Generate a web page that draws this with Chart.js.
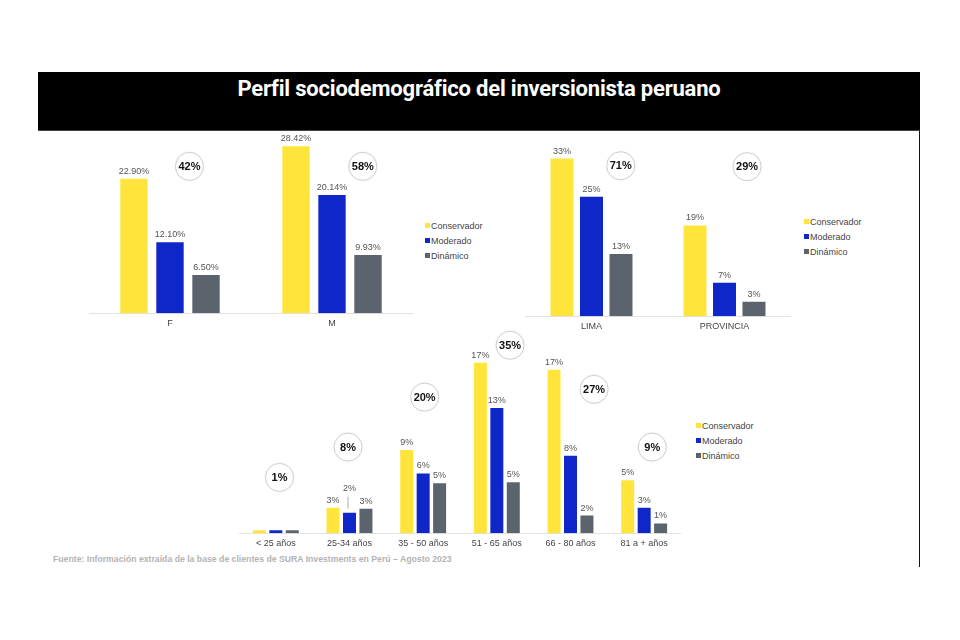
<!DOCTYPE html>
<html>
<head>
<meta charset="utf-8">
<script src="https://cdn.jsdelivr.net/npm/chart.js@4"></script>
<style>
  body { margin: 0; background: #fff; width: 960px; height: 640px; position: relative; overflow: hidden; font-family: "Liberation Sans", Arial, sans-serif; }
  #banner { position: absolute; left: 38px; top: 72px; width: 882px; height: 58px; background: #000; border-bottom: 1px solid #444; }
  #title { position: absolute; left: 38px; top: 76px; width: 882px; text-align: center; color: #fff; font: bold 22px Roboto, "Liberation Sans", sans-serif; line-height: 26px; letter-spacing: -0.2px; }
  #rightline { position: absolute; left: 919px; top: 131px; width: 1px; height: 436px; background: #111; }
  .box { position: absolute; }
  .legend { position: absolute; font-size: 9px; color: #444; line-height: 15px; }
  .legend span { display: inline-block; width: 5px; height: 5px; margin-right: 1px; vertical-align: 1px; }
  #footer { position: absolute; left: 53px; top: 554px; font-size: 8.7px; font-weight: bold; color: #b3b3b3; }
</style>
</head>
<body>
<div id="banner"></div>
<div id="title">Perfil sociodemográfico del inversionista peruano</div>
<div id="rightline"></div>

<div class="box" style="left:89px; top:117px; width:324px; height:217px;"><canvas id="sexo"></canvas></div>
<div class="box" style="left:525px; top:129px; width:266px; height:208px;"><canvas id="region"></canvas></div>
<div class="box" style="left:239px; top:327px; width:442px; height:227px;"><canvas id="edad"></canvas></div>

<div class="legend" id="leg1" style="left:425px; top:219px;"></div>
<div class="legend" id="leg2" style="left:804px; top:215px;"></div>
<div class="legend" id="leg3" style="left:696px; top:419px;"></div>

<div id="footer">Fuente: Información extraída de la base de clientes de SURA Investments en Perú – Agosto 2023</div>

<script>
const seriesNames = ["Conservador", "Moderado", "Dinámico"];
const seriesColors = ["#FFE53B", "#0F27C8", "#5B636D"];

// sexo
const sexCategories = ["F", "M"];
const sexConservador = [22.9, 28.42];
const sexModerado = [12.1, 20.14];
const sexDinamico = [6.5, 9.93];
const sexTotals = ["42%", "58%"];

// region
const regionCategories = ["LIMA", "PROVINCIA"];
const regionConservador = [33, 19];
const regionModerado = [25, 7];
const regionDinamico = [13, 3];
const regionTotals = ["71%", "29%"];

// edad
const ageCategories = ["< 25 años", "25-34 años", "35 - 50 años", "51 - 65 años", "66 - 80 años", "81 a + años"];
const ageConservador = [0.3, 2.6, 8.5, 17.4, 16.7, 5.4];
const ageModerado = [0.3, 2.1, 6.1, 12.8, 7.9, 2.6];
const ageDinamico = [0.3, 2.5, 5.1, 5.2, 1.8, 1.0];
const ageTotals = ["1%", "8%", "20%", "35%", "27%", "9%"];

const barLabels = {
  id: "barLabels",
  afterDatasetsDraw(chart, args, opts) {
    const ctx = chart.ctx;
    ctx.save();
    ctx.font = '9px "Liberation Sans", Arial, sans-serif';
    ctx.fillStyle = "#555";
    ctx.textAlign = "center";
    ctx.textBaseline = "bottom";
    chart.data.datasets.forEach((ds, di) => {
      chart.getDatasetMeta(di).data.forEach((bar, i) => {
        const v = ds.data[i];
        if (v < 0.5) return;
        let y = bar.y - 3;
        const lift = (opts.lift || []).find((l) => l.ds === di && l.i === i);
        if (lift) {
          ctx.strokeStyle = "#aaa";
          ctx.lineWidth = 1;
          ctx.beginPath();
          ctx.moveTo(bar.x - 1.5, bar.y - 4);
          ctx.lineTo(bar.x - 1.5, bar.y - lift.dy + 4);
          ctx.stroke();
          y = bar.y - lift.dy;
        }
        ctx.fillText(opts.format(v), bar.x, y);
      });
    });
    // total circles
    const xs = chart.scales.x, ys = chart.scales.y;
    (opts.circles || []).forEach((c, i) => {
      const cx = xs.getPixelForValue(c.x);
      const cy = ys.getPixelForValue(c.y);
      ctx.save();
      ctx.shadowColor = "rgba(0,0,0,0.12)";
      ctx.shadowBlur = 2;
      ctx.beginPath();
      ctx.arc(cx, cy, 14, 0, Math.PI * 2);
      ctx.fillStyle = "#fff";
      ctx.fill();
      ctx.restore();
      ctx.strokeStyle = "#cfcfcf";
      ctx.lineWidth = 1;
      ctx.beginPath();
      ctx.arc(cx, cy, 14, 0, Math.PI * 2);
      ctx.stroke();
      ctx.fillStyle = "#111";
      ctx.font = 'bold 11px "Liberation Sans", Arial, sans-serif';
      ctx.textBaseline = "middle";
      ctx.fillText(opts.totals[i], cx, cy + 0.5);
    });
    ctx.restore();
  },
};

function DrawChart(canvasId, labels, data, yMax, padTop, barOpts, labelOpts) {
  new Chart(document.getElementById(canvasId), {
    type: "bar",
    data: {
      labels: labels,
      datasets: data.map((d, i) => ({
        label: seriesNames[i],
        data: d,
        backgroundColor: seriesColors[i],
        categoryPercentage: barOpts.cat,
        barPercentage: barOpts.bar,
      })),
    },
    options: {
      responsive: true,
      maintainAspectRatio: false,
      animation: false,
      layout: { padding: { top: padTop, left: 0, right: 0, bottom: 0 } },
      scales: {
        x: {
          grid: { display: false, drawTicks: false },
          border: { display: true, color: "#e2e2e2", width: 1 },
          ticks: {
            color: "#444",
            padding: 5,
            font: { family: '"Liberation Sans", Arial, sans-serif', size: 9 },
          },
        },
        y: { display: false, min: 0, max: yMax },
      },
      plugins: {
        legend: { display: false },
        tooltip: { enabled: false },
        barLabels: labelOpts,
      },
    },
    plugins: [barLabels],
  });
}

function DrawLegend(id) {
  const el = document.getElementById(id);
  seriesNames.forEach((name, i) => {
    const row = document.createElement("div");
    row.innerHTML = '<span style="background:' + seriesColors[i] + '"></span>' + name;
    el.appendChild(row);
  });
}

DrawChart("sexo", sexCategories, [sexConservador, sexModerado, sexDinamico], 30, 20,
  { cat: 0.667, bar: 0.76 },
  {
    format: (v) => v.toFixed(2) + "%",
    totals: sexTotals,
    circles: [{ x: 0.12, y: 25 }, { x: 1.19, y: 25 }],
  });

DrawChart("region", regionCategories, [regionConservador, regionModerado, regionDinamico], 35, 20,
  { cat: 0.665, bar: 0.78 },
  {
    format: (v) => Math.round(v) + "%",
    totals: regionTotals,
    circles: [{ x: 0.22, y: 31.5 }, { x: 1.17, y: 31.3 }],
  });

DrawChart("edad", ageCategories, [ageConservador, ageModerado, ageDinamico], 18, 30,
  { cat: 0.67, bar: 0.79 },
  {
    format: (v) => Math.round(v) + "%",
    totals: ageTotals,
    lift: [{ ds: 1, i: 1, dy: 20 }],
    circles: [
      { x: 0.05, y: 5.7 }, { x: 0.98, y: 8.8 }, { x: 2.02, y: 13.9 },
      { x: 3.18, y: 19.2 }, { x: 4.32, y: 14.7 }, { x: 5.11, y: 8.8 },
    ],
  });

DrawLegend("leg1");
DrawLegend("leg2");
DrawLegend("leg3");
</script>
</body>
</html>
